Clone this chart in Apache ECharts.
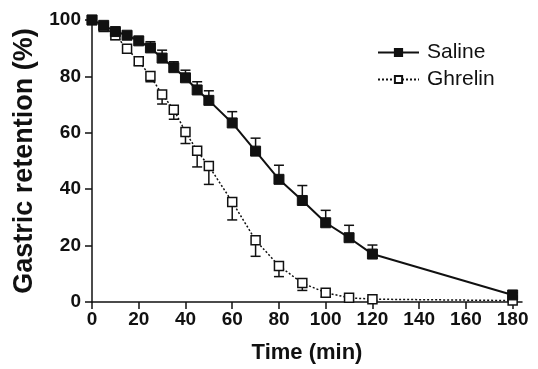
<!DOCTYPE html>
<html>
<head>
<meta charset="utf-8">
<script src="https://cdn.jsdelivr.net/npm/echarts@6/dist/echarts.min.js"></script>
<style>
  html, body { margin: 0; padding: 0; background: #fff; }
  #chart { width: 538px; height: 369px; }
</style>
</head>
<body>
<div id="chart"></div>
<script>
// time points (min)
const times = [0, 5, 10, 15, 20, 25, 30, 35, 40, 45, 50, 60, 70, 80, 90, 100, 110, 120, 180];
// gastric retention (%), mean and SEM
const saline = [100, 98.1, 95.9, 94.6, 92.6, 90.1, 86.5, 83.1, 79.5, 75.2, 71.5, 63.5, 53.5, 43.5, 36.0, 28.1, 22.8, 17.0, 2.5];
const salineErr = [0.8, 1.0, 1.0, 1.2, 1.5, 2.2, 2.8, 2.1, 2.7, 2.9, 3.4, 4.0, 4.6, 5.0, 5.3, 4.4, 4.4, 3.2, 0.8];
const ghrelin = [100, 97.5, 94.6, 89.8, 85.4, 80.1, 73.6, 68.2, 60.3, 53.6, 48.2, 35.5, 21.9, 12.8, 6.7, 3.3, 1.5, 1.0, 0.5];
const ghrelinErr = [0.5, 1.0, 1.5, 1.5, 1.5, 2.0, 3.4, 3.4, 4.1, 5.7, 6.5, 6.4, 5.7, 3.8, 2.6, 1.5, 0.8, 0.5, 0.3];
const xTicks = [0, 20, 40, 60, 80, 100, 120, 140, 160, 180];

const FONT = 'Liberation Sans, Arial, Helvetica, sans-serif';
const INK = '#111';

const chart = echarts.init(document.getElementById('chart'), null, { renderer: 'canvas' });

// error bar: line from mean to mean +/- err with a cap
const errorBar = (dir) => (params, api) => {
  const x = api.value(0);
  const y = api.value(1);
  const e = api.value(2);
  const p0 = api.coord([x, y]);
  const p1 = api.coord([x, y + dir * e]);
  const half = 5;
  const style = { stroke: INK, lineWidth: 1.5 };
  return {
    type: 'group',
    children: [
      { type: 'line', shape: { x1: p0[0], y1: p0[1], x2: p1[0], y2: p1[1] }, style },
      { type: 'line', shape: { x1: p1[0] - half, y1: p1[1], x2: p1[0] + half, y2: p1[1] }, style },
    ],
  };
};

const option = {
  animation: false,
  backgroundColor: '#fff',
  textStyle: { fontFamily: FONT },
  grid: { left: 92, right: 16, top: 20, bottom: 66 },
  legend: {
    orient: 'vertical',
    left: 372,
    top: 37,
    itemWidth: 41,
    itemHeight: 9,
    itemGap: 6,
    data: ['Saline', 'Ghrelin'],
    textStyle: { fontSize: 21, color: INK, fontFamily: FONT, padding: [0, 0, 0, 3] },
  },
  xAxis: {
    type: 'value',
    min: 0,
    max: 184,
    interval: 20,
    name: 'Time (min)',
    nameLocation: 'middle',
    nameGap: 40,
    nameTextStyle: { fontSize: 22, fontWeight: 'bold', color: INK, fontFamily: FONT },
    axisLine: { lineStyle: { color: INK, width: 1.5 } },
    axisTick: { length: 7, lineStyle: { color: INK, width: 1.5 }, customValues: xTicks },
    axisLabel: { fontSize: 19, fontWeight: 'bold', color: INK, margin: 8, customValues: xTicks },
    splitLine: { show: false },
  },
  yAxis: {
    type: 'value',
    min: 0,
    max: 100,
    interval: 20,
    name: 'Gastric retention (%)',
    nameLocation: 'middle',
    nameGap: 52,
    nameTextStyle: { fontSize: 27, fontWeight: 'bold', color: INK, fontFamily: FONT },
    axisLine: { show: true, lineStyle: { color: INK, width: 1.5 } },
    axisTick: { show: true, length: 7, lineStyle: { color: INK, width: 1.5 } },
    axisLabel: { fontSize: 19, fontWeight: 'bold', color: INK, margin: 11 },
    splitLine: { show: false },
  },
  series: [
    {
      type: 'custom',
      name: 'ghrelin-err',
      z: 1,
      renderItem: errorBar(-1),
      data: times.map((t, i) => [t, ghrelin[i], ghrelinErr[i]]),
    },
    {
      name: 'Ghrelin',
      type: 'line',
      z: 2,
      data: times.map((t, i) => [t, ghrelin[i]]),
      symbol: 'rect',
      symbolSize: 9,
      showAllSymbol: true,
      lineStyle: { color: INK, width: 1.5, type: [2, 2] },
      itemStyle: { color: '#fff', borderColor: INK, borderWidth: 1.5 },
    },
    {
      type: 'custom',
      name: 'saline-err',
      z: 3,
      renderItem: errorBar(1),
      data: times.map((t, i) => [t, saline[i], salineErr[i]]),
    },
    {
      name: 'Saline',
      type: 'line',
      z: 4,
      data: times.map((t, i) => [t, saline[i]]),
      symbol: 'rect',
      symbolSize: 10,
      showAllSymbol: true,
      lineStyle: { color: INK, width: 2 },
      itemStyle: { color: INK, borderColor: INK, borderWidth: 1 },
    },
  ],
};

chart.setOption(option);
</script>
</body>
</html>
